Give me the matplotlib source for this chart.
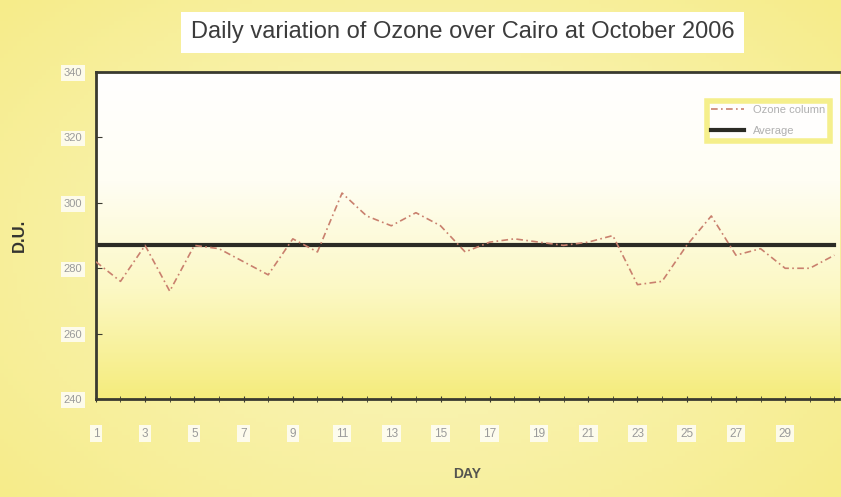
import numpy as np
import matplotlib
matplotlib.use("Agg")
import matplotlib.pyplot as plt
from matplotlib.colors import LinearSegmentedColormap

# Daily total ozone over Cairo, October 2006 (D.U.)
days = list(range(1, 32))
ozone = [282, 276, 287, 273, 287, 286, 282, 278, 289, 285,
         303, 296, 293, 297, 293, 285, 288, 289, 288, 287,
         288, 290, 275, 276, 287, 296, 284, 286, 280, 280, 284]
average = 287
y_ticks = [240, 260, 280, 300, 320, 340]
x_tick_days = list(range(1, 30, 2))

plt.rcParams["font.family"] = ["Liberation Sans", "DejaVu Sans"]

fig = plt.figure(figsize=(8.41, 4.97), dpi=100)
fig.patch.set_facecolor("#f9f2a8")

# soft yellow background for the whole figure
bg = fig.add_axes([0, 0, 1, 1], zorder=-10)
gx = np.linspace(-1, 1, 200)
gy = np.linspace(-1, 1, 120)
GX, GY = np.meshgrid(gx, gy)
bg.imshow(np.sqrt((GX * 0.9) ** 2 + (GY * 0.8) ** 2), aspect="auto",
          extent=[0, 1, 0, 1],
          cmap=LinearSegmentedColormap.from_list("bgy", ["#fbf7c8", "#f6ec8a"]))
bg.axis("off")

ax = fig.add_axes([0.114, 0.197, 0.884, 0.658])
ax.set_xlim(1, 31.2)
ax.set_ylim(240, 340)

# plot area: white at the top fading to yellow at the bottom
grad = np.linspace(0, 1, 256).reshape(-1, 1)
ax.imshow(grad, aspect="auto", extent=[1, 31.2, 240, 340], origin="upper",
          cmap=LinearSegmentedColormap.from_list(
              "pa", ["#ffffff", "#fffef4", "#fcf8c4", "#f5ec7c"]),
          zorder=0)

ax.plot(days, [average] * len(days), color="#2b2b25", lw=3.0,
        label="Average", zorder=2)
ax.plot(days, ozone, color="#c9806e", lw=1.2, ls=(0, (4, 2, 1, 2)),
        label="Ozone column", zorder=3)

ax.spines["right"].set_visible(False)
for side in ("left", "bottom", "top"):
    ax.spines[side].set_color("#3a3a30")
    ax.spines[side].set_linewidth(2.0)

ax.set_yticks(y_ticks)
ax.set_xticks(x_tick_days)
ax.set_xticks(days, minor=True)
ax.tick_params(axis="y", direction="in", length=4, color="#3a3a30",
               labelsize=8, labelcolor="#9a9a9a", pad=10)
ax.tick_params(axis="x", which="both", direction="inout", length=5,
               color="#3a3a30", labelsize=8.5, labelcolor="#9a9a9a", pad=18)
for lbl in ax.get_xticklabels() + ax.get_yticklabels():
    lbl.set_bbox(dict(facecolor="white", edgecolor="none", pad=2, alpha=0.8))

ax.set_xlabel("DAY", fontsize=10, fontweight="bold", color="#555550",
              labelpad=20)
ax.set_ylabel("D.U.", fontsize=12, fontweight="bold", color="#333330",
              labelpad=26)

leg = ax.legend(handles=ax.get_lines()[::-1], loc="upper right",
                bbox_to_anchor=(0.995, 0.93), fontsize=8, frameon=True,
                fancybox=False, handlelength=3.0, labelspacing=1.0,
                labelcolor="#b0b0b0")
leg.get_frame().set_edgecolor("#f3ec70")
leg.get_frame().set_linewidth(4)
leg.get_frame().set_facecolor("white")

fig.text(0.55, 0.935, "Daily variation of Ozone over Cairo at October 2006",
         ha="center", va="center", fontsize=17, color="#3c3c3c",
         bbox=dict(facecolor="white", edgecolor="none", pad=7))

fig.savefig("out.png", dpi=100, facecolor=fig.get_facecolor())
